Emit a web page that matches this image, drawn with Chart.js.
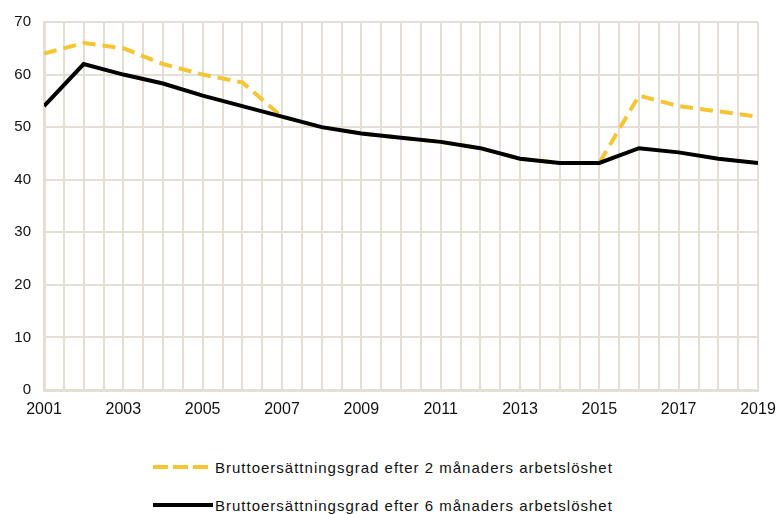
<!DOCTYPE html>
<html lang="sv">
<head>
    <meta charset="UTF-8">
    <title>Bruttoersättningsgrad</title>
    <script src="https://cdn.jsdelivr.net/npm/chart.js"></script>
    <style>
        body { margin: 0; background: #fff; font-family: "Liberation Sans", Arial, sans-serif; overflow: hidden; }
        #wrap { position: relative; width: 777px; height: 430px; }
        #legend { position: absolute; left: 153px; top: 448px; }
        .item { display: flex; align-items: center; height: 38px; font-size: 15px; letter-spacing: 1px; color: #111; }
        .swatch { width: 60px; height: 4px; margin-right: 2px; }
    </style>
</head>
<body>
    <div id="wrap"><canvas id="chart"></canvas></div>
    <div id="legend"></div>

    <script>
        const years = [2001, 2002, 2003, 2004, 2005, 2006, 2007, 2008, 2009, 2010,
                       2011, 2012, 2013, 2014, 2015, 2016, 2017, 2018, 2019];
        const seriesNames = [
            "Bruttoersättningsgrad efter 2 månaders arbetslöshet",
            "Bruttoersättningsgrad efter 6 månaders arbetslöshet"
        ];
        const after2Months = [64, 66, 65, 62, 60, 58.5, 52, 50, 48.8, 48,
                              47.2, 46, 44, 43.2, 43.2, 56, 54, 53, 52];
        const after6Months = [54, 62, 60, 58.3, 56, 54, 52, 50, 48.8, 48,
                              47.2, 46, 44, 43.2, 43.2, 46, 45.2, 44, 43.2];
        const yTicks = [0, 10, 20, 30, 40, 50, 60, 70];

        const gridColor = "#e4dfd6";
        const yellow = "#f4c534";

        const toPoints = arr => arr.map((v, i) => ({ x: years[i], y: v }));

        const ctx = document.getElementById("chart").getContext("2d");
        new Chart(ctx, {
            type: "line",
            data: {
                datasets: [{
                    label: seriesNames[0],
                    data: toPoints(after2Months),
                    borderColor: yellow,
                    borderWidth: 4,
                    borderDash: [13, 7],
                    pointRadius: 0,
                    tension: 0,
                    order: 2
                }, {
                    label: seriesNames[1],
                    data: toPoints(after6Months),
                    borderColor: "#000",
                    borderWidth: 4,
                    pointRadius: 0,
                    tension: 0,
                    order: 1
                }]
            },
            options: {
                responsive: true,
                maintainAspectRatio: false,
                animation: false,
                layout: { padding: { top: 21, right: 0, left: 0, bottom: 0 } },
                plugins: { legend: { display: false }, tooltip: { enabled: false } },
                scales: {
                    x: {
                        type: "linear",
                        min: years[0],
                        max: years[years.length - 1],
                        grid: { color: gridColor, lineWidth: 2, drawTicks: false },
                        border: { color: gridColor, width: 3 },
                        afterBuildTicks: scale => {
                            const t = [];
                            for (let v = years[0]; v <= years[years.length - 1]; v += 0.5) t.push({ value: v });
                            scale.ticks = t;
                        },
                        afterFit: scale => {
                            scale.height = 40;
                            scale.paddingLeft = 0;
                            scale.paddingRight = 19;
                        },
                        ticks: {
                            autoSkip: false,
                            maxRotation: 0,
                            padding: 10,
                            color: "#111",
                            font: { family: "Liberation Sans", size: 16 },
                            callback: v => (Number.isInteger(v) && (v - years[0]) % 2 === 0) ? String(v) : ""
                        }
                    },
                    y: {
                        min: yTicks[0],
                        max: yTicks[yTicks.length - 1],
                        grid: { color: gridColor, lineWidth: 2, drawTicks: false },
                        border: { color: gridColor, width: 3 },
                        afterBuildTicks: scale => { scale.ticks = yTicks.map(v => ({ value: v })); },
                        afterFit: scale => { scale.width = 44; },
                        ticks: {
                            padding: 13,
                            color: "#111",
                            font: { family: "Liberation Sans", size: 15 }
                        }
                    }
                }
            }
        });

        // legend below the chart, one row per series
        const legend = document.getElementById("legend");
        const styles = [
            "background: repeating-linear-gradient(to right, " + yellow + " 0 15px, transparent 15px 20px)",
            "background: #000"
        ];
        seriesNames.forEach((name, i) => {
            const row = document.createElement("div");
            row.className = "item";
            row.innerHTML = `<span class="swatch" style="${styles[i]}"></span><span>${name}</span>`;
            legend.appendChild(row);
        });
    </script>
</body>
</html>
